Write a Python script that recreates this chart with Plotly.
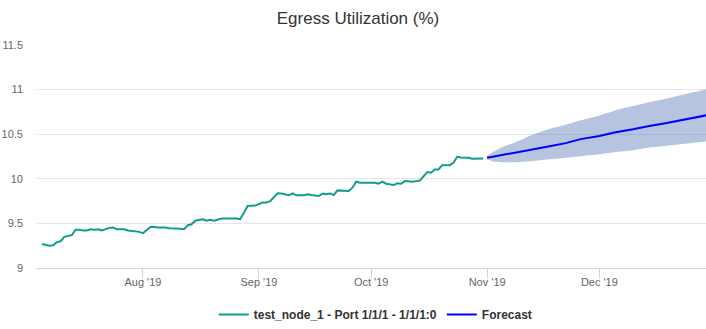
import plotly.graph_objects as go

# Observed egress utilisation, daily samples (%)
obs_dates = [
    "2019-07-05", "2019-07-07", "2019-07-08", "2019-07-09", "2019-07-10", "2019-07-11",
    "2019-07-12", "2019-07-13", "2019-07-14", "2019-07-15", "2019-07-16", "2019-07-17",
    "2019-07-18", "2019-07-19", "2019-07-20", "2019-07-21", "2019-07-23", "2019-07-24",
    "2019-07-25", "2019-07-27", "2019-07-28", "2019-07-30", "2019-07-31", "2019-08-01",
    "2019-08-03", "2019-08-04", "2019-08-05", "2019-08-07", "2019-08-08", "2019-08-11",
    "2019-08-12", "2019-08-13", "2019-08-14", "2019-08-15", "2019-08-16", "2019-08-17",
    "2019-08-18", "2019-08-19", "2019-08-20", "2019-08-21", "2019-08-22", "2019-08-26",
    "2019-08-27", "2019-08-29", "2019-08-30", "2019-08-31", "2019-09-02", "2019-09-03",
    "2019-09-04", "2019-09-05", "2019-09-06", "2019-09-07", "2019-09-09", "2019-09-10",
    "2019-09-11", "2019-09-13", "2019-09-14", "2019-09-15", "2019-09-17", "2019-09-18",
    "2019-09-19", "2019-09-20", "2019-09-21", "2019-09-22", "2019-09-25", "2019-09-26",
    "2019-09-27", "2019-09-28", "2019-10-02", "2019-10-03", "2019-10-04", "2019-10-05",
    "2019-10-06", "2019-10-07", "2019-10-08", "2019-10-09", "2019-10-10", "2019-10-12",
    "2019-10-13", "2019-10-14", "2019-10-16", "2019-10-17", "2019-10-18", "2019-10-19",
    "2019-10-20", "2019-10-22", "2019-10-23", "2019-10-24", "2019-10-25", "2019-10-27",
    "2019-10-28", "2019-10-29", "2019-10-30", "2019-10-31",
]
obs_values = [
    9.27, 9.25, 9.255, 9.29, 9.30, 9.35,
    9.36, 9.37, 9.43, 9.43, 9.42, 9.42,
    9.435, 9.43, 9.435, 9.42, 9.45, 9.455,
    9.435, 9.435, 9.42, 9.41, 9.405, 9.39,
    9.46, 9.46, 9.455, 9.455, 9.446, 9.44,
    9.435, 9.48, 9.49, 9.53, 9.54, 9.547,
    9.53, 9.54, 9.53, 9.547, 9.555, 9.555,
    9.547, 9.695, 9.695, 9.70, 9.733, 9.733,
    9.75, 9.79, 9.837, 9.834, 9.815, 9.837,
    9.815, 9.815, 9.826, 9.818, 9.807, 9.834,
    9.826, 9.834, 9.818, 9.87, 9.863, 9.90,
    9.967, 9.956, 9.956, 9.945, 9.967, 9.945,
    9.938, 9.93, 9.949, 9.945, 9.974, 9.967,
    9.974, 9.98, 10.075, 10.068, 10.105, 10.105,
    10.153, 10.153, 10.18, 10.247, 10.24, 10.235,
    10.224, 10.224, 10.23, 10.228,
]

# Forecast with its confidence interval (%)
fc_dates = [
    "2019-11-01", "2019-11-03", "2019-11-05", "2019-11-08", "2019-11-12", "2019-11-17",
    "2019-11-22", "2019-11-26", "2019-12-01", "2019-12-05", "2019-12-10", "2019-12-14",
    "2019-12-19", "2019-12-23", "2019-12-30",
]
fc_values = [
    10.235, 10.25, 10.27, 10.285, 10.32, 10.36,
    10.40, 10.445, 10.48, 10.52, 10.555, 10.59,
    10.625, 10.655, 10.715,
]
fc_lower = [
    10.215, 10.19, 10.185, 10.185, 10.195, 10.215,
    10.235, 10.253, 10.275, 10.298, 10.32, 10.347,
    10.37, 10.39, 10.42,
]
fc_upper = [
    10.26, 10.31, 10.355, 10.40, 10.475, 10.55,
    10.605, 10.655, 10.71, 10.763, 10.815, 10.856,
    10.90, 10.94, 11.005,
]

series_name = "test_node_1 - Port 1/1/1 - 1/1/1:0"
forecast_name = "Forecast"
chart_title = "Egress Utilization (%)"
y_ticks = [9, 9.5, 10, 10.5, 11, 11.5]

FONT = "Liberation Sans, Arial, Helvetica, sans-serif"

fig = go.Figure()

# Confidence band
fig.add_trace(go.Scatter(
    x=fc_dates, y=fc_upper, mode="lines",
    line=dict(width=0, shape="spline", smoothing=0.6),
    showlegend=False, hoverinfo="skip",
))
fig.add_trace(go.Scatter(
    x=fc_dates, y=fc_lower, mode="lines",
    line=dict(width=0, shape="spline", smoothing=0.6),
    fill="tonexty", fillcolor="rgba(75,107,177,0.4)",
    showlegend=False, hoverinfo="skip",
))

fig.add_trace(go.Scatter(
    x=obs_dates, y=obs_values, mode="lines", name=series_name,
    line=dict(color="#109e88", width=2),
))
fig.add_trace(go.Scatter(
    x=fc_dates, y=fc_values, mode="lines", name=forecast_name,
    line=dict(color="#0000ff", width=2),
))

fig.update_layout(
    width=706, height=329,
    margin=dict(l=36, r=0, t=45, b=60),
    paper_bgcolor="white", plot_bgcolor="white",
    font=dict(family=FONT, color="#666666", size=11),
    title=dict(
        text=chart_title, x=358 / 706, xref="container", xanchor="center",
        y=1 - 18 / 329, yref="container", yanchor="middle",
        font=dict(size=17, color="#333333", family=FONT),
    ),
    legend=dict(
        orientation="h", x=358 / 706, xanchor="center",
        y=-0.21, yanchor="middle", yref="paper",
        font=dict(size=12, color="#333333", family=FONT, weight="bold"),
        itemwidth=30, tracegroupgap=0, traceorder="normal",
    ),
    showlegend=True,
)

fig.update_xaxes(
    type="date",
    range=["2019-07-03 10:00", "2019-12-29 12:00"],
    tick0="2019-08-01", dtick="M1", tickformat="%b '%y",
    showgrid=False, zeroline=False,
    showline=True, linecolor="#ccd6eb", linewidth=1,
    ticks="outside", ticklen=10, tickcolor="#ccd6eb", tickwidth=1,
    ticklabelstandoff=-6,
    tickfont=dict(size=11, color="#666666"),
)
fig.update_yaxes(
    range=[9, 11.5], tickvals=y_ticks,
    showgrid=True, gridcolor="#e6e6e6", gridwidth=1,
    zeroline=False, showline=False,
    ticks="", ticklabelstandoff=12,
    tickfont=dict(size=11, color="#666666"),
)

fig.write_html("out.html")
